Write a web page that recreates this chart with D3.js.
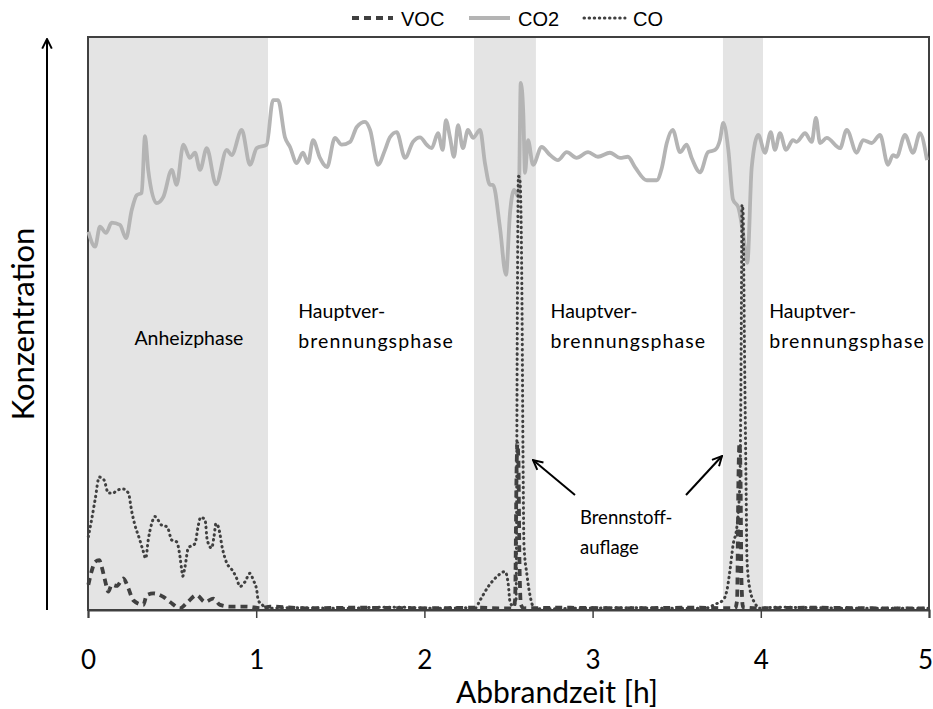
<!DOCTYPE html>
<html><head><meta charset="utf-8">
<script src="https://cdn.jsdelivr.net/npm/d3@7"></script>
<style>body{margin:0;background:#fff}svg{display:block}</style>
</head><body>
<svg id="chart" width="933" height="709"></svg>
<script>
const xTicks = [0, 1, 2, 3, 4, 5];
const seriesNames = ["VOC", "CO2", "CO"];
const shadedPhases = [[0, 1.07], [2.295, 2.663], [3.775, 4.013]];
const phaseLabels = [
  {h: 0.6, lines: ["Anheizphase"], anchor: "middle"},
  {h: 1.25, lines: ["Hauptver-", "brennungsphase"], anchor: "start"},
  {h: 2.75, lines: ["Hauptver-", "brennungsphase"], anchor: "start"},
  {h: 4.05, lines: ["Hauptver-", "brennungsphase"], anchor: "start"}
];
const annotationLines = ["Brennstoff-", "auflage"];

const co2Data = [[0.002,66.0],[0.042,63.4],[0.071,66.9],[0.107,65.8],[0.141,67.6],[0.190,67.2],[0.226,64.9],[0.260,69.8],[0.290,72.4],[0.319,72.8],[0.339,82.7],[0.358,76.8],[0.408,71.0],[0.448,72.1],[0.498,76.8],[0.527,74.2],[0.567,81.2],[0.606,78.9],[0.636,79.8],[0.666,76.8],[0.706,80.6],[0.761,74.3],[0.825,80.3],[0.854,79.4],[0.914,83.8],[0.963,77.7],[1.003,80.6],[1.062,81.2],[1.100,89.0],[1.130,89.0],[1.171,82.5],[1.201,80.8],[1.241,78.0],[1.278,79.8],[1.308,78.0],[1.338,82.0],[1.379,78.9],[1.421,77.3],[1.468,82.4],[1.508,81.2],[1.558,81.7],[1.598,84.3],[1.647,85.2],[1.677,83.8],[1.724,77.7],[1.766,80.3],[1.795,82.5],[1.835,83.4],[1.885,78.9],[1.932,81.7],[1.974,82.5],[2.014,81.2],[2.043,80.6],[2.081,83.2],[2.109,80.3],[2.128,85.5],[2.152,82.5],[2.176,79.1],[2.200,84.6],[2.229,80.6],[2.259,83.8],[2.289,82.4],[2.331,83.8],[2.360,78.0],[2.390,74.2],[2.408,74.2],[2.449,66.8],[2.485,58.5],[2.509,69.3],[2.533,73.3],[2.561,72.1],[2.573,92.0],[2.588,86.7],[2.598,76.3],[2.616,82.0],[2.646,77.7],[2.697,80.8],[2.747,79.4],[2.794,78.5],[2.846,79.9],[2.905,78.9],[2.973,79.9],[3.032,79.1],[3.103,79.8],[3.163,78.9],[3.210,79.1],[3.252,77.3],[3.322,75.0],[3.381,75.0],[3.411,77.1],[3.441,81.5],[3.476,83.8],[3.520,79.9],[3.559,81.2],[3.589,78.9],[3.639,76.4],[3.686,79.9],[3.728,80.3],[3.757,82.0],[3.777,85.0],[3.807,80.3],[3.835,71.6],[3.866,70.3],[3.892,66.3],[3.920,60.6],[3.946,77.3],[3.985,82.9],[4.025,79.8],[4.059,83.4],[4.084,80.3],[4.114,83.2],[4.150,80.3],[4.191,82.0],[4.213,81.7],[4.263,83.2],[4.303,81.7],[4.328,85.9],[4.352,81.5],[4.392,82.4],[4.471,80.6],[4.511,83.8],[4.570,79.8],[4.608,82.0],[4.659,81.5],[4.709,82.9],[4.756,77.7],[4.786,79.4],[4.808,79.1],[4.857,82.9],[4.905,79.8],[4.946,83.2],[4.988,78.5]];

const coData = [[0.002,12.8],[0.021,15.7],[0.042,19.2],[0.067,23.2],[0.095,22.7],[0.121,20.4],[0.150,20.4],[0.171,20.9],[0.210,21.1],[0.240,20.4],[0.260,17.2],[0.279,14.8],[0.305,12.5],[0.329,10.2],[0.343,9.0],[0.358,12.2],[0.379,15.1],[0.398,16.3],[0.438,14.8],[0.471,14.5],[0.498,12.2],[0.527,11.9],[0.547,9.3],[0.557,7.0],[0.563,5.9],[0.577,7.6],[0.596,10.8],[0.636,11.6],[0.656,14.8],[0.670,16.2],[0.696,15.7],[0.709,12.2],[0.735,10.8],[0.749,12.8],[0.761,15.1],[0.775,14.5],[0.801,10.5],[0.825,8.2],[0.854,7.1],[0.880,5.8],[0.904,4.1],[0.933,4.9],[0.963,6.4],[0.983,5.2],[1.003,3.5],[1.012,1.7],[1.033,1.0],[1.062,0.3],[1.2,0.4],[1.5,0.3],[1.8,0.5],[2.1,0.3],[2.25,0.4],[2.301,0.3],[2.331,1.7],[2.380,4.1],[2.430,5.8],[2.479,6.7],[2.499,4.4],[2.509,1.4],[2.527,0.7],[2.545,1.7],[2.553,54.1],[2.559,75.7],[2.568,75.0],[2.580,54.1],[2.586,27.9],[2.592,11.3],[2.610,6.1],[2.634,1.7],[2.658,0.2],[2.9,0.3],[3.2,0.4],[3.5,0.3],[3.668,0.3],[3.728,1.0],[3.775,1.7],[3.799,3.5],[3.817,7.0],[3.835,11.3],[3.859,14.8],[3.876,22.7],[3.885,54.1],[3.888,70.7],[3.894,69.8],[3.903,45.4],[3.912,22.7],[3.918,8.7],[3.936,3.5],[3.965,1.2],[3.995,0.3],[4.1,0.5],[4.3,0.4],[4.6,0.3],[5.0,0.3]];

const vocData = [[0.002,4.4],[0.021,6.7],[0.042,8.4],[0.067,8.7],[0.081,7.6],[0.101,5.2],[0.121,3.2],[0.141,4.4],[0.171,4.2],[0.210,5.5],[0.240,3.8],[0.269,1.7],[0.329,0.9],[0.349,2.6],[0.388,2.9],[0.448,2.3],[0.488,1.4],[0.547,0.3],[0.587,1.2],[0.646,2.6],[0.696,1.4],[0.745,2.0],[0.785,0.9],[0.844,0.6],[0.944,0.6],[1.033,0.3],[1.082,0.6],[1.3,0.3],[1.6,0.4],[2.0,0.3],[2.3,0.4],[2.45,0.3],[2.527,0.3],[2.539,1.7],[2.548,24.4],[2.553,29.1],[2.559,26.2],[2.565,8.7],[2.574,0.9],[2.592,0.3],[2.8,0.4],[3.2,0.3],[3.6,0.4],[3.847,0.3],[3.859,1.7],[3.867,22.7],[3.873,29.1],[3.879,24.4],[3.885,5.2],[3.894,0.5],[4.0,0.3],[4.3,0.4],[4.7,0.3],[5.0,0.3]];

const svg = d3.select("#chart");
const L = 88, R = 929, T = 37, B = 610;
const x = d3.scaleLinear().domain([0, 5]).range([L, R]);
const y = d3.scaleLinear().domain([0, 100]).range([B, T]);
const dark = "#404040";
const font = "'Liberation Sans', Arial, sans-serif";
const labelFont = "Lato, 'Open Sans', sans-serif";

svg.append("defs").append("marker").attr("id", "ah").attr("viewBox", "0 0 10 10")
  .attr("refX", 9).attr("refY", 5).attr("markerWidth", 6).attr("markerHeight", 6)
  .attr("orient", "auto-start-reverse")
  .append("path").attr("d", "M1,1 L9,5 L1,9").attr("fill", "none").attr("stroke", "#000").attr("stroke-width", 1.6);

// shaded phases
svg.selectAll("rect.phase").data(shadedPhases).join("rect").attr("class", "phase")
  .attr("x", d => x(d[0])).attr("width", d => x(d[1]) - x(d[0]))
  .attr("y", T).attr("height", B - T).attr("fill", "#e4e4e4");

// frame
svg.append("rect").attr("x", L).attr("y", T).attr("width", R - L).attr("height", B - T)
  .attr("fill", "none").attr("stroke", dark).attr("stroke-width", 2);

const line = d3.line().x(d => x(d[0])).y(d => y(d[1])).curve(d3.curveMonotoneX);

svg.append("path").datum(co2Data).attr("d", line).attr("fill", "none")
  .attr("stroke", "#b4b4b4").attr("stroke-width", 3.8).attr("stroke-linejoin", "round");
svg.append("path").datum(coData).attr("d", line).attr("fill", "none")
  .attr("stroke", dark).attr("stroke-width", 3).attr("stroke-dasharray", "0.5 4.6").attr("stroke-linecap", "round");
svg.append("path").datum(vocData).attr("d", line).attr("fill", "none")
  .attr("stroke", dark).attr("stroke-width", 3.8).attr("stroke-dasharray", "7 5");

// x axis
const xAxis = svg.append("g").attr("transform", `translate(0,${B})`)
  .call(d3.axisBottom(x).tickValues(xTicks).tickFormat(d3.format("d")).tickSize(8).tickPadding(33));
xAxis.select(".domain").attr("stroke", dark).attr("stroke-width", 2);
xAxis.selectAll(".tick line").attr("stroke", dark).attr("stroke-width", 1.5);
xAxis.selectAll("text").attr("font-family", labelFont).attr("font-size", 26).attr("fill", "#000")
  .attr("dx", d => d === 5 ? -4 : 0);

svg.append("text").attr("x", 557).attr("y", 703).attr("text-anchor", "middle")
  .attr("font-family", labelFont).attr("font-size", 30).text("Abbrandzeit [h]");

// y axis arrow & title
svg.append("line").attr("x1", 47).attr("x2", 47).attr("y1", B).attr("y2", 39)
  .attr("stroke", "#000").attr("stroke-width", 2).attr("marker-end", "url(#ah)");
svg.append("text").attr("transform", `translate(34,324) rotate(-90)`)
  .attr("text-anchor", "middle").attr("font-family", labelFont).attr("font-size", 31).text("Konzentration");

// phase labels
phaseLabels.forEach(p => {
  const t = svg.append("text").attr("x", x(p.h)).attr("text-anchor", p.anchor)
    .attr("font-family", labelFont).attr("font-size", 19.5).attr("fill", "#000");
  const y0 = p.lines.length === 1 ? 345 : 318;
  p.lines.forEach((s, i) => t.append("tspan").attr("x", x(p.h)).attr("y", y0 + i * 30)
    .attr("letter-spacing", i === 1 ? 1.1 : 0).text(s));
});

// annotation
const ann = svg.append("text").attr("font-family", labelFont).attr("font-size", 18.5);
annotationLines.forEach((s, i) => ann.append("tspan").attr("x", 580).attr("y", 524 + i * 30).text(s));
svg.append("line").attr("x1", 575).attr("y1", 495).attr("x2", 533).attr("y2", 460)
  .attr("stroke", "#000").attr("stroke-width", 2).attr("marker-end", "url(#ah)");
svg.append("line").attr("x1", 686).attr("y1", 495).attr("x2", 722).attr("y2", 456)
  .attr("stroke", "#000").attr("stroke-width", 2).attr("marker-end", "url(#ah)");

// legend
const legendItems = [
  {name: seriesNames[0], x1: 352, stroke: dark, w: 3.8, dash: "7 5", cap: "butt"},
  {name: seriesNames[1], x1: 469, stroke: "#b4b4b4", w: 3.8, dash: null, cap: "butt"},
  {name: seriesNames[2], x1: 584, stroke: dark, w: 3, dash: "0.5 4.6", cap: "round"}
];
legendItems.forEach(it => {
  svg.append("line").attr("x1", it.x1).attr("x2", it.x1 + 41).attr("y1", 18).attr("y2", 18)
    .attr("stroke", it.stroke).attr("stroke-width", it.w).attr("stroke-dasharray", it.dash)
    .attr("stroke-linecap", it.cap);
  svg.append("text").attr("x", it.x1 + 49).attr("y", 26).attr("font-family", font)
    .attr("font-size", 20).text(it.name);
});
</script>
</body></html>
